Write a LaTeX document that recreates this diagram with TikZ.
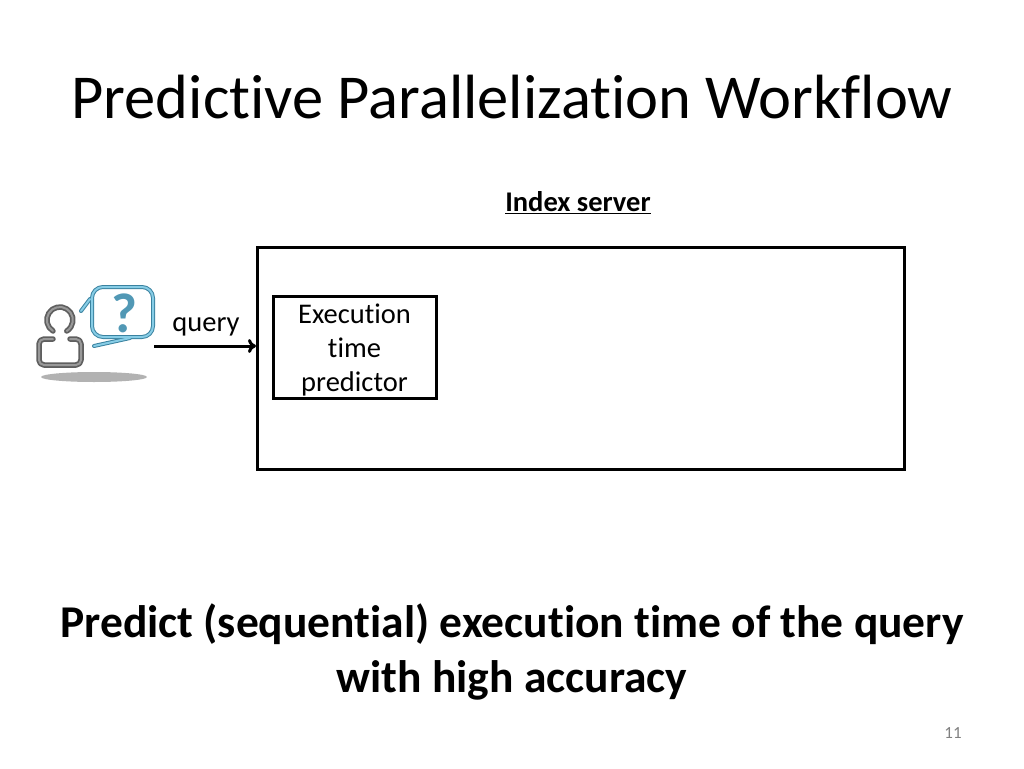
\documentclass[tikz,border=0pt]{standalone}
\usepackage{fontspec}
\setmainfont{Carlito}[RawFeature={-liga}]
\usetikzlibrary{arrows.meta}
\definecolor{bubbleblue}{RGB}{58,130,160}
\definecolor{bubblelight}{RGB}{135,205,230}
\definecolor{usergrey}{RGB}{95,95,95}
\begin{document}
\begin{tikzpicture}[x=1pt,y=-1pt,
    box/.style={draw=black,line width=3pt,inner sep=0pt},
    label/.style={inner sep=0pt,align=center,text=black},
    usertrace/.style={line width=#1,line cap=round,line join=round,rounded corners=5pt}]
    %%%%% PAGE %%%%%
    \useasboundingbox (0,0) rectangle (1024,768);
    \node[label,font=\fontsize{62.5}{66}\selectfont] (title) at (512,97) {Predictive Parallelization Workflow};
    \node[label,font=\bfseries\fontsize{28.5}{32}\selectfont] (server) at (578,203) {\underline{Index server}};
    %%%%% SERVER %%%%%
    \node[box,minimum width=647pt,minimum height=222pt] (indexbox) at (581,358) {};
    \node[box,minimum width=163pt,minimum height=102pt] (predictor) at (354.5,347) {};
    \node[label,font=\fontsize{28.5}{34}\selectfont] (predictortext) at (354.5,350) {Execution\\time\\predictor};
    %%%%% USER %%%%%
    \fill[black!30] (94,377) ellipse (53 and 5);
    \foreach \linecol/\linew in {usergrey/5.5pt,black!40/2pt}{
        \draw[usertrace=\linew,draw=\linecol] (53,331) arc (122:418:13);
        \draw[usertrace=\linew,draw=\linecol] (70,339) -- (81,339) -- (81,365) -- (39,365) -- (39,339) -- (53,339);
    }
    \foreach \linecol/\linew in {bubbleblue/4pt,bubblelight/2pt}{
        \draw[usertrace=\linew,draw=\linecol,rounded corners=11pt] (92,287) -- (153,287) -- (153,337) -- (92,337) -- cycle;
        \draw[usertrace=\linew,draw=\linecol,rounded corners=0pt] (81,311) -- (90,299);
        \draw[usertrace=\linew,draw=\linecol,rounded corners=0pt] (94,346) -- (130,338);
    }
    \node[label,font=\bfseries\fontsize{56}{56}\selectfont,text=bubbleblue!70!bubblelight] (mark) at (124,313) {?};
    \coordinate (userout) at (154,346);
    %%%%% QUERY %%%%%
    \node[label,font=\fontsize{28.5}{32}\selectfont] (query) at (206,327) {query};
    \draw[line width=3pt,-{To[length=8pt,width=14pt]}] (userout) -- (indexbox.west |- userout);
    %%%%% FOOT %%%%%
    \node[label,font=\bfseries\fontsize{45.5}{55}\selectfont] (claim) at (512,652) {Predict (sequential) execution time of the query\\with high accuracy};
    \node[label,font=\fontsize{17}{20}\selectfont,text=black!50] (pagenum) at (953,733) {11};
\end{tikzpicture}
\end{document}
